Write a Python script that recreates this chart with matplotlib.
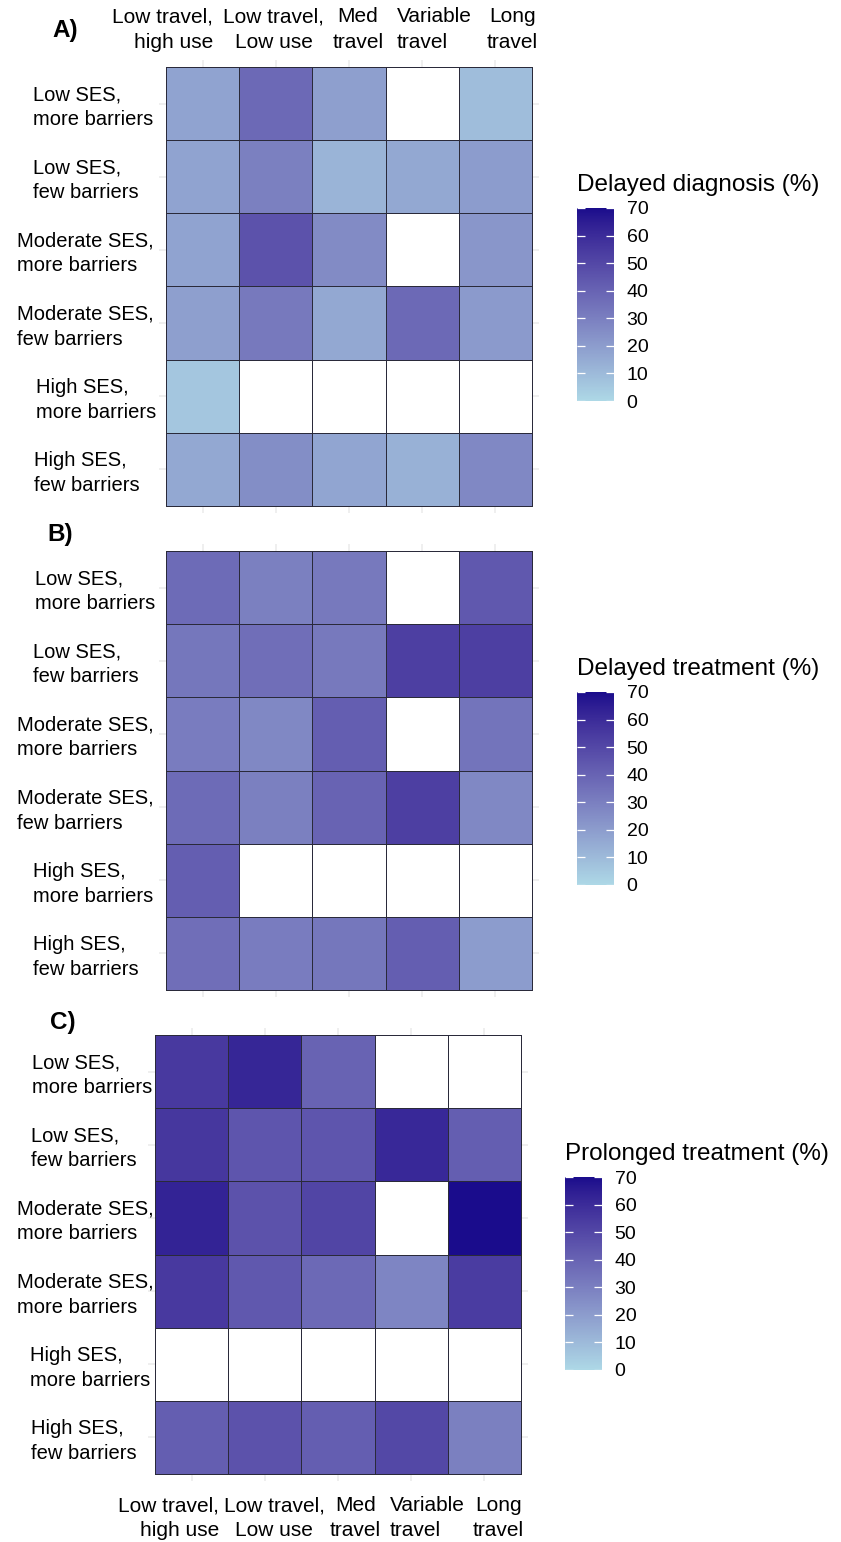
import numpy as np
import matplotlib
matplotlib.use("Agg")
import matplotlib.pyplot as plt
from matplotlib.colors import ListedColormap, Normalize
from matplotlib.transforms import blended_transform_factory
import matplotlib.cm as cm

plt.rcParams['font.family'] = ['Liberation Sans', 'DejaVu Sans']

nan = np.nan
travel_labels = ["Low travel,\nhigh use", "Low travel,\nLow use", "Med\ntravel",
                 "Variable\ntravel", "Long\ntravel"]
ses_labels = ["Low SES,\nmore barriers", "Low SES,\nfew barriers",
              "Moderate SES,\nmore barriers", "Moderate SES,\nfew barriers",
              "High SES,\nmore barriers", "High SES,\nfew barriers"]
# panel C repeats the "more barriers" label as in the original
ses_labels_c = ["Low SES,\nmore barriers", "Low SES,\nfew barriers",
                "Moderate SES,\nmore barriers", "Moderate SES,\nmore barriers",
                "High SES,\nmore barriers", "High SES,\nfew barriers"]

delayed_diagnosis = [[18, 38, 19, nan, 9],
                     [18, 30, 12, 16, 20],
                     [18, 46, 26, nan, 22],
                     [19, 32, 16, 38, 21],
                     [6, nan, nan, nan, nan],
                     [16, 25, 17, 13, 27]]
delayed_treatment = [[37, 30, 32, nan, 44],
                     [33, 36, 32, 53, 53],
                     [31, 27, 42, nan, 34],
                     [37, 30, 40, 53, 27],
                     [42, nan, nan, nan, nan],
                     [36, 31, 33, 42, 20]]
prolonged_treatment = [[55, 62, 40, nan, nan],
                       [56, 45, 45, 61, 42],
                       [63, 46, 51, nan, 70],
                       [55, 44, 38, 28, 54],
                       [nan, nan, nan, nan, nan],
                       [42, 46, 42, 50, 30]]
legend_titles = ["Delayed diagnosis (%)", "Delayed treatment (%)", "Prolonged treatment (%)"]
cbar_ticks = [0, 10, 20, 30, 40, 50, 60, 70]


# ggplot-like gradient: lightblue -> dark blue interpolated in CIELAB
def to_lab(rgb):
    c = np.asarray(rgb, float)
    lin = np.where(c <= 0.04045, c / 12.92, ((c + 0.055) / 1.055) ** 2.4)
    M = np.array([[0.4124, 0.3576, 0.1805], [0.2126, 0.7152, 0.0722], [0.0193, 0.1192, 0.9505]])
    xyz = M @ lin / np.array([0.95047, 1.0, 1.08883])
    f = np.where(xyz > 0.008856, np.cbrt(xyz), 7.787 * xyz + 16 / 116)
    return np.array([116 * f[1] - 16, 500 * (f[0] - f[1]), 200 * (f[1] - f[2])])


def from_lab(lab):
    L, a, b = lab
    fy = (L + 16) / 116
    f = np.array([fy + a / 500, fy, fy - b / 200])
    xyz = np.where(f ** 3 > 0.008856, f ** 3, (f - 16 / 116) / 7.787) * np.array([0.95047, 1.0, 1.08883])
    Minv = np.array([[3.2406, -1.5372, -0.4986], [-0.9689, 1.8758, 0.0415], [0.0557, -0.2040, 1.0570]])
    lin = Minv @ xyz
    c = np.where(lin <= 0.0031308, 12.92 * lin, 1.055 * np.clip(lin, 0, None) ** (1 / 2.4) - 0.055)
    return np.clip(c, 0, 1)


lo = to_lab([173 / 255, 216 / 255, 230 / 255])
hi = to_lab([26 / 255, 12 / 255, 140 / 255])
cmap = ListedColormap([from_lab(lo + (hi - lo) * t) for t in np.linspace(0, 1, 256)])
norm = Normalize(0, 70)
blank = ListedColormap(["white"])

W, H = 841, 1542
fig = plt.figure(figsize=(W / 100, H / 100), dpi=100)

panels = [
    (delayed_diagnosis, ses_labels, "A)", [158.7, 59.7], [577, 208], "top"),
    (delayed_treatment, ses_labels, "B)", [158.7, 543.7], [577, 692], None),
    (prolonged_treatment, ses_labels_c, "C)", [147.7, 1027.7], [565, 1177], "bottom"),
]
row_label_x = [[33, 33, 17, 17, 36, 34],
               [35, 33, 17, 17, 33, 33],
               [32, 31, 17, 17, 30, 31]]
letter_pos = [(52, 31), (47, 535), (50, 1023)]
top_shift = [-0.55, -0.03, 0.12, 0.16, 0.23]
bottom_shift = [-0.31, 0.13, 0.24, 0.22, 0.19]
top_align = ["right", "center", "center", "left", "center"]
bot_align = ["right", "center", "center", "left", "center"]

for k, (vals, ylabs, letter, (ax_x, ax_y), (cb_x, cb_y), xpos) in enumerate(panels):
    data = np.array(vals, float)
    nr, nc = data.shape
    ax = fig.add_axes([ax_x / W, 1 - (ax_y + 453.6) / H, 380.6 / W, 453.6 / H])
    xe = np.arange(nc + 1) - 0.5
    ye = np.arange(nr + 1) - 0.5
    missing = np.where(np.isnan(data), 0.0, nan)
    ax.pcolormesh(xe, ye, np.ma.masked_invalid(missing), cmap=blank,
                  edgecolors="#a0a0a0", linewidth=0.6, zorder=2)
    ax.pcolormesh(xe, ye, np.ma.masked_invalid(data), cmap=cmap, norm=norm,
                  edgecolors="#2a2a3a", linewidth=0.6, zorder=3)
    ax.set_xlim(-0.6, nc - 0.4)
    ax.set_ylim(nr - 0.4, -0.6)
    ax.set_xticks(range(nc))
    ax.set_yticks(range(nr))
    ax.set_xticklabels([])
    ax.set_yticklabels([])
    ax.tick_params(length=0)
    ax.grid(True, color="#ebebeb", linewidth=1.1, zorder=0)
    ax.set_axisbelow(True)
    for s in ax.spines.values():
        s.set_visible(False)

    # row labels, lines left aligned
    tr = blended_transform_factory(fig.transFigure, ax.transData)
    for i, lab in enumerate(ylabs):
        ax.text(row_label_x[k][i] / W, i + 0.05, lab, transform=tr, ha="left", va="center",
                multialignment="left", fontsize=14.5, linespacing=1.38)

    trx = blended_transform_factory(ax.transData, ax.transAxes)
    if xpos == "top":
        for j, lab in enumerate(travel_labels):
            ax.text(j + top_shift[j], 1 + (ax_y - 29.5) / 453.6, lab, transform=trx,
                    ha="center", va="center", multialignment=top_align[j],
                    fontsize=15, linespacing=1.4)
    elif xpos == "bottom":
        for j, lab in enumerate(travel_labels):
            ax.text(j + bottom_shift[j], -(1518 - ax_y - 453.6) / 453.6, lab, transform=trx,
                    ha="center", va="center", multialignment=bot_align[j],
                    fontsize=15, linespacing=1.4)

    lx, ly = letter_pos[k]
    fig.text(lx / W, 1 - ly / H, letter, fontsize=17.5, fontweight="bold",
             ha="left", va="center")

    # colour bar
    cax = fig.add_axes([cb_x / W, 1 - (cb_y + 193) / H, 37 / W, 193 / H])
    cb = fig.colorbar(cm.ScalarMappable(norm=norm, cmap=cmap), cax=cax, ticks=cbar_ticks)
    cb.outline.set_visible(False)
    cax.tick_params(direction="in", color="white", length=6, width=0.9,
                    left=True, right=True, labelleft=False, labelright=True,
                    labelsize=14, pad=9)
    fig.text(cb_x / W, 1 - (cb_y - 23) / H, legend_titles[k], fontsize=17.5,
             ha="left", va="center")

fig.savefig("out.png", dpi=100, facecolor="white")
